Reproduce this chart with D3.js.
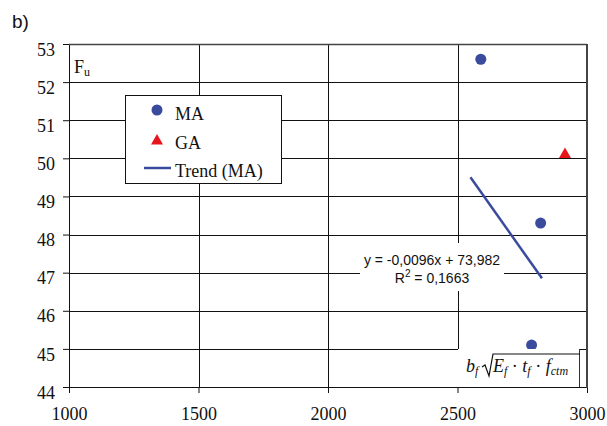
<!DOCTYPE html>
<html>
<head>
<meta charset="utf-8">
<script src="https://cdn.jsdelivr.net/npm/d3@7"></script>
<style>
  html, body { margin: 0; padding: 0; background: #fff; }
  svg { display: block; }
  .serif { font-family: "Liberation Serif", "Times New Roman", serif; }
  .sans { font-family: "Liberation Sans", Arial, sans-serif; }
</style>
</head>
<body>
<svg id="chart" width="607" height="426"></svg>
<script>
// Series: MA (circles), GA (triangle)
const maX = [2590, 2821, 2786];
const maY = [52.6, 48.3, 45.1];
const gaX = [2915];
const gaY = [50.1];

// Linear trend of MA as stated in the equation label
const trendSlope = -0.0096;
const trendIntercept = 73.982;
const trendR2 = "0,1663";
const trendXRange = [2550, 2826];

// Axis ticks
const xTicks = [1000, 1500, 2000, 2500, 3000];
const yTicks = [44, 45, 46, 47, 48, 49, 50, 51, 52, 53];

const legendItems = ["MA", "GA", "Trend (MA)"];

const blue = "#3a4b9e";
const red = "#e8141c";

const svg = d3.select("#chart");
const plotL = 69, plotR = 587, plotT = 44, plotB = 387;

const x = d3.scaleLinear().domain([1000, 3000]).range([plotL, plotR]);
const y = d3.scaleLinear().domain([44, 53]).range([plotB, plotT]);

// Grid lines
svg.append("g").selectAll("line").data(yTicks).join("line")
  .attr("x1", plotL).attr("x2", plotR)
  .attr("y1", d => Math.round(y(d)) + 0.5).attr("y2", d => Math.round(y(d)) + 0.5)
  .attr("stroke", "#111").attr("stroke-width", 1);
svg.append("g").selectAll("line").data(xTicks).join("line")
  .attr("y1", plotT).attr("y2", plotB)
  .attr("x1", d => Math.round(x(d)) + 0.5).attr("x2", d => Math.round(x(d)) + 0.5)
  .attr("stroke", "#111").attr("stroke-width", 1);

// Axes (outward ticks)
const xAxis = svg.append("g")
  .attr("transform", `translate(0,${plotB})`)
  .call(d3.axisBottom(x).tickValues(xTicks).tickSize(6).tickSizeOuter(0).tickFormat(d3.format("d")));
const yAxis = svg.append("g")
  .attr("transform", `translate(${plotL},0)`)
  .call(d3.axisLeft(y).tickValues(yTicks).tickSize(6).tickSizeOuter(0).tickFormat(d3.format("d")));

[xAxis, yAxis].forEach(g => {
  g.select(".domain").attr("stroke", "#111");
  g.selectAll(".tick line").attr("stroke", "#111");
  g.selectAll(".tick text")
    .attr("class", "serif")
    .attr("font-size", 18)
    .attr("fill", "#111");
});
xAxis.selectAll(".tick text").attr("dy", null).attr("y", 33);
yAxis.selectAll(".tick text").attr("x", -14).attr("dy", "0.62em");

// Plot frame: top and right edges
svg.append("line").attr("x1", plotL).attr("x2", plotR)
  .attr("y1", plotT + 0.5).attr("y2", plotT + 0.5).attr("stroke", "#444").attr("stroke-width", 1.3);
svg.append("line").attr("x1", plotR).attr("x2", plotR)
  .attr("y1", plotT).attr("y2", plotB + 1).attr("stroke", "#444").attr("stroke-width", 2);

// Trend line
svg.append("line")
  .attr("x1", x(trendXRange[0])).attr("y1", y(trendSlope * trendXRange[0] + trendIntercept))
  .attr("x2", x(trendXRange[1])).attr("y2", y(trendSlope * trendXRange[1] + trendIntercept))
  .attr("stroke", blue).attr("stroke-width", 2.5);

// Equation label with white background
svg.append("rect").attr("x", 360).attr("y", 243).attr("width", 144).attr("height", 48).attr("fill", "#fff");
const eq = svg.append("text").attr("class", "sans").attr("font-size", 14).attr("fill", "#111")
  .attr("text-anchor", "middle");
eq.append("tspan").attr("x", 432).attr("y", 265)
  .text(`y = ${String(trendSlope).replace(".", ",")}x + ${String(trendIntercept).replace(".", ",")}`);
const r2 = eq.append("tspan").attr("x", 432).attr("y", 283);
r2.append("tspan").text("R");
r2.append("tspan").attr("font-size", 10).attr("dy", -6).text("2");
r2.append("tspan").attr("dy", 6).text(" = " + trendR2);

// Points
svg.append("g").selectAll("circle").data(maX.map((v, i) => [v, maY[i]])).join("circle")
  .attr("cx", d => x(d[0])).attr("cy", d => y(d[1])).attr("r", 5.5).attr("fill", blue);
const tri = d3.symbol().type(d3.symbolTriangle).size(62);
svg.append("g").selectAll("path").data(gaX.map((v, i) => [v, gaY[i]])).join("path")
  .attr("d", tri).attr("transform", d => `translate(${x(d[0])},${y(d[1])})`).attr("fill", red);

// Legend
const lg = svg.append("g");
lg.append("rect").attr("x", 125.5).attr("y", 95.5).attr("width", 156).attr("height", 88)
  .attr("fill", "#fff").attr("stroke", "#111").attr("stroke-width", 1);
lg.append("circle").attr("cx", 157).attr("cy", 110).attr("r", 5.5).attr("fill", blue);
lg.append("path").attr("d", tri).attr("transform", "translate(157,141)").attr("fill", red);
lg.append("line").attr("x1", 144).attr("x2", 171).attr("y1", 168).attr("y2", 168)
  .attr("stroke", blue).attr("stroke-width", 2.5);
lg.selectAll("text").data(legendItems).join("text")
  .attr("class", "serif").attr("font-size", 18).attr("fill", "#111")
  .attr("x", 175).attr("y", (d, i) => [120, 149, 177][i]).text(d => d);

// Y-axis quantity label F_u
const fu = svg.append("text").attr("class", "serif").attr("font-size", 18).attr("fill", "#111")
  .attr("x", 74).attr("y", 73);
fu.append("tspan").text("F");
fu.append("tspan").attr("font-size", 12).attr("dy", 3).text("u");

// X-axis quantity label b_f sqrt(E_f · t_f · f_ctm)
svg.append("rect").attr("x", 458).attr("y", 349).attr("width", 121).attr("height", 38).attr("fill", "#fff");
svg.append("line").attr("x1", 579.5).attr("x2", 579.5).attr("y1", 349).attr("y2", 387)
  .attr("stroke", "#333").attr("stroke-width", 1);
const fx = svg.append("text").attr("class", "serif").attr("font-size", 18).attr("fill", "#111")
  .attr("font-style", "italic").attr("x", 466).attr("y", 372);
fx.append("tspan").text("b");
fx.append("tspan").attr("font-size", 12).attr("dy", 3).text("f");
// radical sign
svg.append("path")
  .attr("d", "M482,367 L485,365 L489,376 L493,354 L580,354")
  .attr("fill", "none").attr("stroke", "#111").attr("stroke-width", 1.2);
const rad = svg.append("text").attr("class", "serif").attr("font-size", 18).attr("fill", "#111")
  .attr("x", 493).attr("y", 372);
rad.append("tspan").attr("font-style", "italic").text("E");
rad.append("tspan").attr("font-style", "italic").attr("font-size", 12).attr("dy", 3).text("f");
rad.append("tspan").attr("dy", -3).text(" · ");
rad.append("tspan").attr("font-style", "italic").text("t");
rad.append("tspan").attr("font-style", "italic").attr("font-size", 12).attr("dy", 3).text("f");
rad.append("tspan").attr("dy", -3).text(" · ");
rad.append("tspan").attr("font-style", "italic").text("f");
rad.append("tspan").attr("font-style", "italic").attr("font-size", 12).attr("dy", 3).text("ctm");

// Panel label
svg.append("text").attr("class", "sans").attr("font-size", 19).attr("fill", "#111")
  .attr("x", 12).attr("y", 28).text("b)");
</script>
</body>
</html>
